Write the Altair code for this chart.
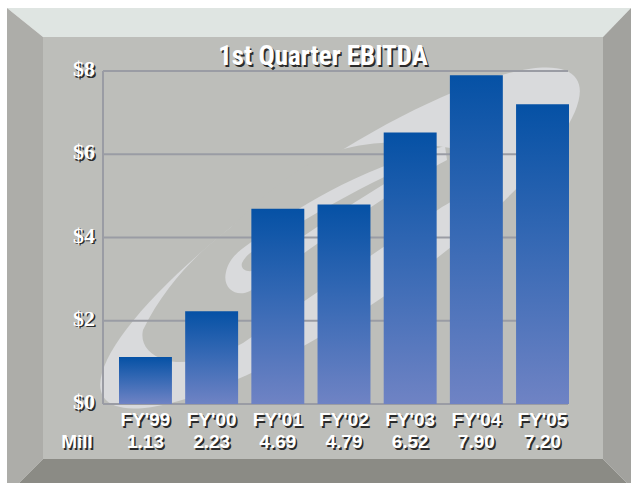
import altair as alt
import pandas as pd

# ---------------- data ----------------
years = ["FY'99", "FY'00", "FY'01", "FY'02", "FY'03", "FY'04", "FY'05"]
ebitda = [1.13, 2.23, 4.69, 4.79, 6.52, 7.90, 7.20]
value_labels = ["1.13", "2.23", "4.69", "4.79", "6.52", "7.90", "7.20"]
y_ticks = [0, 2, 4, 6, 8]
y_tick_labels = ["$0", "$2", "$4", "$6", "$8"]
title_text = "1st Quarter EBITDA"
unit_label = "Mill"

df = pd.DataFrame({"fy": years, "val": ebitda, "lab": value_labels})
ticks_df = pd.DataFrame({"v": y_ticks, "lab": y_tick_labels})

# ---------------- layout ----------------
PAD_L, PAD_T, W, H = 103, 71, 466, 333
PAD_R, PAD_B = 631 - PAD_L - W, 483 - PAD_T - H

xscale = alt.Scale(domain=years, range=[16, W], paddingInner=0.2, paddingOuter=0)
yscale = alt.Scale(domain=[0, 8], nice=False, zero=True)

SANS = "Liberation Sans"
NARROW = "Liberation Sans Narrow, Roboto Condensed, Liberation Sans"
SERIF = "Liberation Serif"
SHADOW = "#2b2b2b"
FACE = "#bdbeba"
SWOOSH = "#d9dadc"


def one_row():
    return alt.Data(values=[{"k": 0}])


def shape(path, color, x=-PAD_L, y=-PAD_T, angle=0):
    # decorative shape; path drawn in page pixels (size 4 -> scale factor 1)
    return alt.Chart(one_row()).mark_point(
        shape=path, size=4, filled=True, color=color, opacity=1,
        strokeWidth=0, angle=angle
    ).encode(x=alt.value(x), y=alt.value(y))


def ellipse(a, b):
    return f"M {-a} 0 A {a} {b} 0 1 0 {a} 0 A {a} {b} 0 1 0 {-a} 0 Z"


HOLE = ("M 143 330 C 165 285 198 252 230 228 C 255 205 290 168 337 151 "
        "C 380 138 420 142 460 150 C 490 156 485 185 442 207 L 243 343 "
        "C 215 358 185 366 165 360 C 148 355 140 343 143 330 Z")
SMALL_OUT = ("M 250 243 C 290 212 350 172 445 146 L 447 160 "
             "C 400 185 330 235 250 291 C 236 298 222 288 226 272 "
             "C 229 258 240 250 250 243 Z")
SMALL_IN = ("M 242 263 C 246 255 252 251 258 249 C 300 222 370 180 430 157 "
            "C 380 185 310 230 256 270 C 248 273 240 270 242 263 Z")

decor = [
    shape("M 7 8 L 631 8 L 603 37 L 43 37 Z", "#dfe5e2"),
    shape("M 7 8 L 43 37 L 43 459 L 19 483 L 7 483 Z", "#adada9"),
    shape("M 631 8 L 631 483 L 627 483 L 603 459 L 603 37 Z", "#a2a29e"),
    shape("M 43 459 L 603 459 L 627 483 L 19 483 Z", "#8b8b85"),
    shape("M 43 37 L 603 37 L 603 459 L 43 459 Z", FACE),
    # swoosh logo behind the bars
    shape(ellipse(285, 73), SWOOSH, x=237, y=167, angle=326),
    shape(HOLE, FACE),
    shape(SMALL_OUT, SWOOSH),
    shape(SMALL_IN, FACE),
]

grid = alt.Chart(ticks_df).mark_rule(color="#9a9ca4", strokeWidth=2).encode(
    y=alt.Y("v:Q", scale=yscale, axis=None),
    x=alt.value(0), x2=alt.value(W - 1),
)
left_line = alt.Chart(one_row()).mark_rule(color="#9a9ca4", strokeWidth=2).encode(
    x=alt.value(0), y=alt.value(0), y2=alt.value(H)
)

gradient = alt.Gradient(
    gradient="linear",
    stops=[
        alt.GradientStop(color="#0551a5", offset=0),
        alt.GradientStop(color="#3468b4", offset=0.45),
        alt.GradientStop(color="#6f83c4", offset=1),
    ],
    x1=0, x2=0, y1=0, y2=1,
)

bars = alt.Chart(df).mark_bar(color=gradient).encode(
    x=alt.X("fy:N", scale=xscale, sort=None, axis=None),
    y=alt.Y("val:Q", scale=yscale, axis=None),
)


def shadow_text(chart_fn):
    return [chart_fn(SHADOW, 1.6, 1.6), chart_fn("#ffffff", 0, 0)]


def title_layer(col, dx, dy):
    return alt.Chart(alt.Data(values=[{"t": title_text}])).mark_text(
        font=NARROW, fontSize=27, fontWeight="bold", color=col,
        align="center", baseline="middle", dx=dx, dy=dy
    ).encode(x=alt.value(220), y=alt.value(-14), text="t:N")


def ylab_layer(col, dx, dy):
    return alt.Chart(ticks_df).mark_text(
        font=SERIF, fontSize=22, fontWeight="bold", color=col,
        align="right", baseline="middle", dx=dx, dy=dy - 2
    ).encode(x=alt.value(-8), y=alt.Y("v:Q", scale=yscale, axis=None), text="lab:N")


def fy_layer(col, dx, dy):
    return alt.Chart(df).mark_text(
        font=SANS, fontSize=19, fontWeight="bold", color=col,
        align="center", baseline="middle", dx=dx, dy=dy
    ).encode(x=alt.X("fy:N", scale=xscale, sort=None, axis=None),
             y=alt.value(349), text="fy:N")


def val_layer(col, dx, dy):
    return alt.Chart(df).mark_text(
        font=SANS, fontSize=19, fontWeight="bold", color=col,
        align="center", baseline="middle", dx=dx, dy=dy
    ).encode(x=alt.X("fy:N", scale=xscale, sort=None, axis=None),
             y=alt.value(371), text="lab:N")


def unit_layer(col, dx, dy):
    return alt.Chart(alt.Data(values=[{"t": unit_label}])).mark_text(
        font=SANS, fontSize=19, fontWeight="bold", color=col,
        align="center", baseline="middle", dx=dx, dy=dy
    ).encode(x=alt.value(-26), y=alt.value(371), text="t:N")


texts = []
for fn in (title_layer, ylab_layer, fy_layer, val_layer, unit_layer):
    texts += shadow_text(fn)

chart = alt.layer(*decor, grid, left_line, bars, *texts).properties(
    width=W, height=H,
    padding={"left": PAD_L, "top": PAD_T, "right": PAD_R, "bottom": PAD_B},
    autosize=alt.AutoSizeParams(type="none"),
    background="#ffffff",
).configure_view(strokeWidth=0)

chart.save("out.html", embed_options={"renderer": "svg", "actions": False})
